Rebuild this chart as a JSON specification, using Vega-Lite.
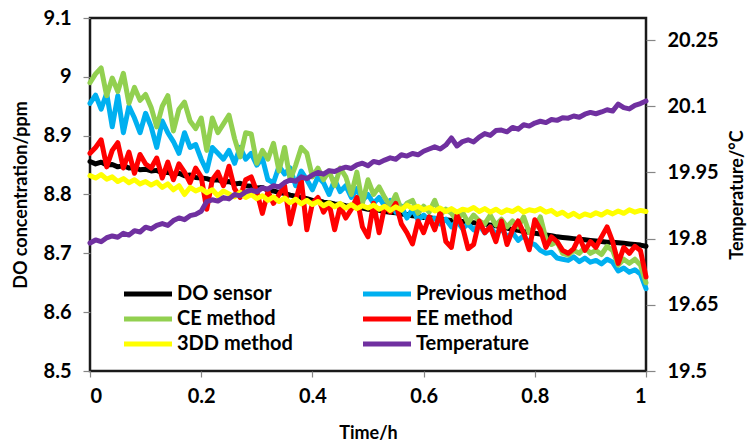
{
"$schema": "https://vega.github.io/schema/vega-lite/v6.json",
"width": 556, "height": 353,
"autosize": {"type": "none"},
"padding": {"left": 90, "top": 18, "right": 103, "bottom": 75},
"background": "white",
"config": {
  "view": {"stroke": "#1a1a1a", "strokeWidth": 2.5},
  "font": "Lato",
  "axis": {"domain": false, "grid": false, "tickColor": "#868686", "tickWidth": 1.2,
    "labelFont": "Lato", "labelFontWeight": "bold", "labelFontSize": 20, "labelColor": "#000",
    "titleFont": "Lato", "titleFontWeight": "bold", "titleFontSize": 18, "titleColor": "#000"},
  "legend": {"labelFont": "Lato", "labelFontWeight": "bold", "labelFontSize": 20, "labelColor": "#000"}
},
"datasets": {
"d": [
{"t":0,"s":"DO sensor","v":8.856},{"t":0.01,"s":"DO sensor","v":8.852},{"t":0.02,"s":"DO sensor","v":8.855},{"t":0.03,"s":"DO sensor","v":8.85},{"t":0.04,"s":"DO sensor","v":8.851},{"t":0.05,"s":"DO sensor","v":8.847},{"t":0.06,"s":"DO sensor","v":8.849},{"t":0.07,"s":"DO sensor","v":8.845},{"t":0.08,"s":"DO sensor","v":8.846},{"t":0.09,"s":"DO sensor","v":8.842},{"t":0.1,"s":"DO sensor","v":8.843},
{"t":0.11,"s":"DO sensor","v":8.84},{"t":0.12,"s":"DO sensor","v":8.841},{"t":0.13,"s":"DO sensor","v":8.837},{"t":0.14,"s":"DO sensor","v":8.838},{"t":0.15,"s":"DO sensor","v":8.834},{"t":0.16,"s":"DO sensor","v":8.836},{"t":0.17,"s":"DO sensor","v":8.832},{"t":0.18,"s":"DO sensor","v":8.833},{"t":0.19,"s":"DO sensor","v":8.829},{"t":0.2,"s":"DO sensor","v":8.828},
{"t":0.21,"s":"DO sensor","v":8.827},{"t":0.22,"s":"DO sensor","v":8.824},{"t":0.23,"s":"DO sensor","v":8.825},{"t":0.24,"s":"DO sensor","v":8.821},{"t":0.25,"s":"DO sensor","v":8.822},{"t":0.26,"s":"DO sensor","v":8.818},{"t":0.27,"s":"DO sensor","v":8.819},{"t":0.28,"s":"DO sensor","v":8.815},{"t":0.29,"s":"DO sensor","v":8.814},{"t":0.3,"s":"DO sensor","v":8.811},
{"t":0.31,"s":"DO sensor","v":8.812},{"t":0.32,"s":"DO sensor","v":8.807},{"t":0.33,"s":"DO sensor","v":8.806},{"t":0.34,"s":"DO sensor","v":8.803},{"t":0.35,"s":"DO sensor","v":8.802},{"t":0.36,"s":"DO sensor","v":8.799},{"t":0.37,"s":"DO sensor","v":8.797},{"t":0.38,"s":"DO sensor","v":8.795},{"t":0.39,"s":"DO sensor","v":8.793},{"t":0.4,"s":"DO sensor","v":8.79},
{"t":0.41,"s":"DO sensor","v":8.79},{"t":0.42,"s":"DO sensor","v":8.787},{"t":0.43,"s":"DO sensor","v":8.786},{"t":0.44,"s":"DO sensor","v":8.784},{"t":0.45,"s":"DO sensor","v":8.783},{"t":0.46,"s":"DO sensor","v":8.781},{"t":0.47,"s":"DO sensor","v":8.78},{"t":0.48,"s":"DO sensor","v":8.778},{"t":0.49,"s":"DO sensor","v":8.777},{"t":0.5,"s":"DO sensor","v":8.775},
{"t":0.51,"s":"DO sensor","v":8.774},{"t":0.52,"s":"DO sensor","v":8.773},{"t":0.53,"s":"DO sensor","v":8.771},{"t":0.54,"s":"DO sensor","v":8.77},{"t":0.55,"s":"DO sensor","v":8.769},{"t":0.56,"s":"DO sensor","v":8.767},{"t":0.57,"s":"DO sensor","v":8.766},{"t":0.58,"s":"DO sensor","v":8.764},{"t":0.59,"s":"DO sensor","v":8.763},{"t":0.6,"s":"DO sensor","v":8.761},
{"t":0.61,"s":"DO sensor","v":8.761},{"t":0.62,"s":"DO sensor","v":8.759},{"t":0.63,"s":"DO sensor","v":8.758},{"t":0.64,"s":"DO sensor","v":8.757},{"t":0.65,"s":"DO sensor","v":8.756},{"t":0.66,"s":"DO sensor","v":8.755},{"t":0.67,"s":"DO sensor","v":8.754},{"t":0.68,"s":"DO sensor","v":8.753},{"t":0.69,"s":"DO sensor","v":8.752},{"t":0.7,"s":"DO sensor","v":8.751},
{"t":0.71,"s":"DO sensor","v":8.75},{"t":0.72,"s":"DO sensor","v":8.748},{"t":0.73,"s":"DO sensor","v":8.747},{"t":0.74,"s":"DO sensor","v":8.745},{"t":0.75,"s":"DO sensor","v":8.743},{"t":0.76,"s":"DO sensor","v":8.74},{"t":0.77,"s":"DO sensor","v":8.739},{"t":0.78,"s":"DO sensor","v":8.737},{"t":0.79,"s":"DO sensor","v":8.736},{"t":0.8,"s":"DO sensor","v":8.734},
{"t":0.81,"s":"DO sensor","v":8.733},{"t":0.82,"s":"DO sensor","v":8.731},{"t":0.83,"s":"DO sensor","v":8.73},{"t":0.84,"s":"DO sensor","v":8.728},{"t":0.85,"s":"DO sensor","v":8.727},{"t":0.86,"s":"DO sensor","v":8.726},{"t":0.87,"s":"DO sensor","v":8.725},{"t":0.88,"s":"DO sensor","v":8.724},{"t":0.89,"s":"DO sensor","v":8.723},{"t":0.9,"s":"DO sensor","v":8.722},
{"t":0.91,"s":"DO sensor","v":8.721},{"t":0.92,"s":"DO sensor","v":8.72},{"t":0.93,"s":"DO sensor","v":8.719},{"t":0.94,"s":"DO sensor","v":8.719},{"t":0.95,"s":"DO sensor","v":8.718},{"t":0.96,"s":"DO sensor","v":8.717},{"t":0.97,"s":"DO sensor","v":8.716},{"t":0.98,"s":"DO sensor","v":8.715},{"t":0.99,"s":"DO sensor","v":8.714},{"t":1,"s":"DO sensor","v":8.712},

{"t":0,"s":"Previous method","v":8.955},{"t":0.01,"s":"Previous method","v":8.969},{"t":0.02,"s":"Previous method","v":8.945},{"t":0.03,"s":"Previous method","v":8.972},{"t":0.04,"s":"Previous method","v":8.915},{"t":0.05,"s":"Previous method","v":8.968},{"t":0.06,"s":"Previous method","v":8.905},{"t":0.07,"s":"Previous method","v":8.95},{"t":0.08,"s":"Previous method","v":8.93},{"t":0.09,"s":"Previous method","v":8.905},{"t":0.1,"s":"Previous method","v":8.938},
{"t":0.11,"s":"Previous method","v":8.915},{"t":0.12,"s":"Previous method","v":8.88},{"t":0.13,"s":"Previous method","v":8.925},{"t":0.14,"s":"Previous method","v":8.905},{"t":0.15,"s":"Previous method","v":8.89},{"t":0.16,"s":"Previous method","v":8.87},{"t":0.17,"s":"Previous method","v":8.905},{"t":0.18,"s":"Previous method","v":8.88},{"t":0.19,"s":"Previous method","v":8.885},{"t":0.2,"s":"Previous method","v":8.86},
{"t":0.21,"s":"Previous method","v":8.84},{"t":0.22,"s":"Previous method","v":8.88},{"t":0.23,"s":"Previous method","v":8.87},{"t":0.24,"s":"Previous method","v":8.86},{"t":0.25,"s":"Previous method","v":8.875},{"t":0.26,"s":"Previous method","v":8.853},{"t":0.27,"s":"Previous method","v":8.88},{"t":0.28,"s":"Previous method","v":8.86},{"t":0.29,"s":"Previous method","v":8.87},{"t":0.3,"s":"Previous method","v":8.85},
{"t":0.31,"s":"Previous method","v":8.862},{"t":0.32,"s":"Previous method","v":8.825},{"t":0.33,"s":"Previous method","v":8.82},{"t":0.34,"s":"Previous method","v":8.848},{"t":0.35,"s":"Previous method","v":8.835},{"t":0.36,"s":"Previous method","v":8.845},{"t":0.37,"s":"Previous method","v":8.815},{"t":0.38,"s":"Previous method","v":8.84},{"t":0.39,"s":"Previous method","v":8.825},{"t":0.4,"s":"Previous method","v":8.808},
{"t":0.41,"s":"Previous method","v":8.83},{"t":0.42,"s":"Previous method","v":8.82},{"t":0.43,"s":"Previous method","v":8.8},{"t":0.44,"s":"Previous method","v":8.825},{"t":0.45,"s":"Previous method","v":8.805},{"t":0.46,"s":"Previous method","v":8.815},{"t":0.47,"s":"Previous method","v":8.795},{"t":0.48,"s":"Previous method","v":8.81},{"t":0.49,"s":"Previous method","v":8.79},{"t":0.5,"s":"Previous method","v":8.8},
{"t":0.51,"s":"Previous method","v":8.785},{"t":0.52,"s":"Previous method","v":8.795},{"t":0.53,"s":"Previous method","v":8.78},{"t":0.54,"s":"Previous method","v":8.79},{"t":0.55,"s":"Previous method","v":8.77},{"t":0.56,"s":"Previous method","v":8.78},{"t":0.57,"s":"Previous method","v":8.76},{"t":0.58,"s":"Previous method","v":8.775},{"t":0.59,"s":"Previous method","v":8.757},{"t":0.6,"s":"Previous method","v":8.765},
{"t":0.61,"s":"Previous method","v":8.755},{"t":0.62,"s":"Previous method","v":8.76},{"t":0.63,"s":"Previous method","v":8.75},{"t":0.64,"s":"Previous method","v":8.758},{"t":0.65,"s":"Previous method","v":8.745},{"t":0.66,"s":"Previous method","v":8.755},{"t":0.67,"s":"Previous method","v":8.742},{"t":0.68,"s":"Previous method","v":8.75},{"t":0.69,"s":"Previous method","v":8.74},{"t":0.7,"s":"Previous method","v":8.748},
{"t":0.71,"s":"Previous method","v":8.735},{"t":0.72,"s":"Previous method","v":8.745},{"t":0.73,"s":"Previous method","v":8.732},{"t":0.74,"s":"Previous method","v":8.742},{"t":0.75,"s":"Previous method","v":8.728},{"t":0.76,"s":"Previous method","v":8.735},{"t":0.77,"s":"Previous method","v":8.722},{"t":0.78,"s":"Previous method","v":8.73},{"t":0.79,"s":"Previous method","v":8.718},{"t":0.8,"s":"Previous method","v":8.715},
{"t":0.81,"s":"Previous method","v":8.705},{"t":0.82,"s":"Previous method","v":8.7},{"t":0.83,"s":"Previous method","v":8.702},{"t":0.84,"s":"Previous method","v":8.692},{"t":0.85,"s":"Previous method","v":8.69},{"t":0.86,"s":"Previous method","v":8.688},{"t":0.87,"s":"Previous method","v":8.694},{"t":0.88,"s":"Previous method","v":8.686},{"t":0.89,"s":"Previous method","v":8.692},{"t":0.9,"s":"Previous method","v":8.685},
{"t":0.91,"s":"Previous method","v":8.688},{"t":0.92,"s":"Previous method","v":8.682},{"t":0.93,"s":"Previous method","v":8.69},{"t":0.94,"s":"Previous method","v":8.685},{"t":0.95,"s":"Previous method","v":8.67},{"t":0.96,"s":"Previous method","v":8.675},{"t":0.97,"s":"Previous method","v":8.668},{"t":0.98,"s":"Previous method","v":8.672},{"t":0.99,"s":"Previous method","v":8.665},{"t":1,"s":"Previous method","v":8.64},

{"t":0,"s":"CE method","v":8.99},{"t":0.01,"s":"CE method","v":9.005},{"t":0.02,"s":"CE method","v":9.015},{"t":0.03,"s":"CE method","v":8.968},{"t":0.04,"s":"CE method","v":8.998},{"t":0.05,"s":"CE method","v":8.975},{"t":0.06,"s":"CE method","v":9.006},{"t":0.07,"s":"CE method","v":8.955},{"t":0.08,"s":"CE method","v":8.982},{"t":0.09,"s":"CE method","v":8.96},{"t":0.1,"s":"CE method","v":8.97},
{"t":0.11,"s":"CE method","v":8.948},{"t":0.12,"s":"CE method","v":8.915},{"t":0.13,"s":"CE method","v":8.95},{"t":0.14,"s":"CE method","v":8.968},{"t":0.15,"s":"CE method","v":8.908},{"t":0.16,"s":"CE method","v":8.945},{"t":0.17,"s":"CE method","v":8.957},{"t":0.18,"s":"CE method","v":8.925},{"t":0.19,"s":"CE method","v":8.912},{"t":0.2,"s":"CE method","v":8.93},
{"t":0.21,"s":"CE method","v":8.875},{"t":0.22,"s":"CE method","v":8.93},{"t":0.23,"s":"CE method","v":8.905},{"t":0.24,"s":"CE method","v":8.92},{"t":0.25,"s":"CE method","v":8.935},{"t":0.26,"s":"CE method","v":8.895},{"t":0.27,"s":"CE method","v":8.864},{"t":0.28,"s":"CE method","v":8.905},{"t":0.29,"s":"CE method","v":8.903},{"t":0.3,"s":"CE method","v":8.853},
{"t":0.31,"s":"CE method","v":8.875},{"t":0.32,"s":"CE method","v":8.86},{"t":0.33,"s":"CE method","v":8.887},{"t":0.34,"s":"CE method","v":8.84},{"t":0.35,"s":"CE method","v":8.88},{"t":0.36,"s":"CE method","v":8.825},{"t":0.37,"s":"CE method","v":8.85},{"t":0.38,"s":"CE method","v":8.88},{"t":0.39,"s":"CE method","v":8.87},{"t":0.4,"s":"CE method","v":8.83},
{"t":0.41,"s":"CE method","v":8.845},{"t":0.42,"s":"CE method","v":8.825},{"t":0.43,"s":"CE method","v":8.84},{"t":0.44,"s":"CE method","v":8.815},{"t":0.45,"s":"CE method","v":8.845},{"t":0.46,"s":"CE method","v":8.83},{"t":0.47,"s":"CE method","v":8.8},{"t":0.48,"s":"CE method","v":8.838},{"t":0.49,"s":"CE method","v":8.785},{"t":0.5,"s":"CE method","v":8.825},
{"t":0.51,"s":"CE method","v":8.8},{"t":0.52,"s":"CE method","v":8.813},{"t":0.53,"s":"CE method","v":8.795},{"t":0.54,"s":"CE method","v":8.78},{"t":0.55,"s":"CE method","v":8.8},{"t":0.56,"s":"CE method","v":8.773},{"t":0.57,"s":"CE method","v":8.785},{"t":0.58,"s":"CE method","v":8.79},{"t":0.59,"s":"CE method","v":8.768},{"t":0.6,"s":"CE method","v":8.78},
{"t":0.61,"s":"CE method","v":8.77},{"t":0.62,"s":"CE method","v":8.79},{"t":0.63,"s":"CE method","v":8.765},{"t":0.64,"s":"CE method","v":8.775},{"t":0.65,"s":"CE method","v":8.768},{"t":0.66,"s":"CE method","v":8.755},{"t":0.67,"s":"CE method","v":8.77},{"t":0.68,"s":"CE method","v":8.752},{"t":0.69,"s":"CE method","v":8.765},{"t":0.7,"s":"CE method","v":8.755},
{"t":0.71,"s":"CE method","v":8.75},{"t":0.72,"s":"CE method","v":8.765},{"t":0.73,"s":"CE method","v":8.748},{"t":0.74,"s":"CE method","v":8.758},{"t":0.75,"s":"CE method","v":8.745},{"t":0.76,"s":"CE method","v":8.755},{"t":0.77,"s":"CE method","v":8.745},{"t":0.78,"s":"CE method","v":8.762},{"t":0.79,"s":"CE method","v":8.735},{"t":0.8,"s":"CE method","v":8.745},
{"t":0.81,"s":"CE method","v":8.762},{"t":0.82,"s":"CE method","v":8.725},{"t":0.83,"s":"CE method","v":8.715},{"t":0.84,"s":"CE method","v":8.72},{"t":0.85,"s":"CE method","v":8.7},{"t":0.86,"s":"CE method","v":8.697},{"t":0.87,"s":"CE method","v":8.705},{"t":0.88,"s":"CE method","v":8.7},{"t":0.89,"s":"CE method","v":8.71},{"t":0.9,"s":"CE method","v":8.7},
{"t":0.91,"s":"CE method","v":8.705},{"t":0.92,"s":"CE method","v":8.698},{"t":0.93,"s":"CE method","v":8.712},{"t":0.94,"s":"CE method","v":8.705},{"t":0.95,"s":"CE method","v":8.68},{"t":0.96,"s":"CE method","v":8.69},{"t":0.97,"s":"CE method","v":8.683},{"t":0.98,"s":"CE method","v":8.69},{"t":0.99,"s":"CE method","v":8.68},{"t":1,"s":"CE method","v":8.65},

{"t":0,"s":"EE method","v":8.87},{"t":0.01,"s":"EE method","v":8.88},{"t":0.02,"s":"EE method","v":8.893},{"t":0.03,"s":"EE method","v":8.847},{"t":0.04,"s":"EE method","v":8.875},{"t":0.05,"s":"EE method","v":8.888},{"t":0.06,"s":"EE method","v":8.845},{"t":0.07,"s":"EE method","v":8.872},{"t":0.08,"s":"EE method","v":8.836},{"t":0.09,"s":"EE method","v":8.868},{"t":0.1,"s":"EE method","v":8.852},
{"t":0.11,"s":"EE method","v":8.845},{"t":0.12,"s":"EE method","v":8.862},{"t":0.13,"s":"EE method","v":8.828},{"t":0.14,"s":"EE method","v":8.855},{"t":0.15,"s":"EE method","v":8.825},{"t":0.16,"s":"EE method","v":8.852},{"t":0.17,"s":"EE method","v":8.838},{"t":0.18,"s":"EE method","v":8.82},{"t":0.19,"s":"EE method","v":8.845},{"t":0.2,"s":"EE method","v":8.83},
{"t":0.21,"s":"EE method","v":8.775},{"t":0.22,"s":"EE method","v":8.825},{"t":0.23,"s":"EE method","v":8.838},{"t":0.24,"s":"EE method","v":8.815},{"t":0.25,"s":"EE method","v":8.848},{"t":0.26,"s":"EE method","v":8.81},{"t":0.27,"s":"EE method","v":8.795},{"t":0.28,"s":"EE method","v":8.825},{"t":0.29,"s":"EE method","v":8.83},{"t":0.3,"s":"EE method","v":8.805},
{"t":0.31,"s":"EE method","v":8.768},{"t":0.32,"s":"EE method","v":8.805},{"t":0.33,"s":"EE method","v":8.785},{"t":0.34,"s":"EE method","v":8.8},{"t":0.35,"s":"EE method","v":8.815},{"t":0.36,"s":"EE method","v":8.75},{"t":0.37,"s":"EE method","v":8.79},{"t":0.38,"s":"EE method","v":8.825},{"t":0.39,"s":"EE method","v":8.74},{"t":0.4,"s":"EE method","v":8.785},
{"t":0.41,"s":"EE method","v":8.795},{"t":0.42,"s":"EE method","v":8.77},{"t":0.43,"s":"EE method","v":8.785},{"t":0.44,"s":"EE method","v":8.74},{"t":0.45,"s":"EE method","v":8.78},{"t":0.46,"s":"EE method","v":8.76},{"t":0.47,"s":"EE method","v":8.775},{"t":0.48,"s":"EE method","v":8.795},{"t":0.49,"s":"EE method","v":8.745},{"t":0.5,"s":"EE method","v":8.728},
{"t":0.51,"s":"EE method","v":8.785},{"t":0.52,"s":"EE method","v":8.735},{"t":0.53,"s":"EE method","v":8.78},{"t":0.54,"s":"EE method","v":8.77},{"t":0.55,"s":"EE method","v":8.785},{"t":0.56,"s":"EE method","v":8.75},{"t":0.57,"s":"EE method","v":8.735},{"t":0.58,"s":"EE method","v":8.716},{"t":0.59,"s":"EE method","v":8.755},{"t":0.6,"s":"EE method","v":8.735},
{"t":0.61,"s":"EE method","v":8.762},{"t":0.62,"s":"EE method","v":8.74},{"t":0.63,"s":"EE method","v":8.77},{"t":0.64,"s":"EE method","v":8.72},{"t":0.65,"s":"EE method","v":8.71},{"t":0.66,"s":"EE method","v":8.765},{"t":0.67,"s":"EE method","v":8.745},{"t":0.68,"s":"EE method","v":8.708},{"t":0.69,"s":"EE method","v":8.715},{"t":0.7,"s":"EE method","v":8.755},
{"t":0.71,"s":"EE method","v":8.735},{"t":0.72,"s":"EE method","v":8.745},{"t":0.73,"s":"EE method","v":8.72},{"t":0.74,"s":"EE method","v":8.755},{"t":0.75,"s":"EE method","v":8.715},{"t":0.76,"s":"EE method","v":8.74},{"t":0.77,"s":"EE method","v":8.755},{"t":0.78,"s":"EE method","v":8.735},{"t":0.79,"s":"EE method","v":8.706},{"t":0.8,"s":"EE method","v":8.757},
{"t":0.81,"s":"EE method","v":8.74},{"t":0.82,"s":"EE method","v":8.71},{"t":0.83,"s":"EE method","v":8.728},{"t":0.84,"s":"EE method","v":8.72},{"t":0.85,"s":"EE method","v":8.705},{"t":0.86,"s":"EE method","v":8.7},{"t":0.87,"s":"EE method","v":8.708},{"t":0.88,"s":"EE method","v":8.728},{"t":0.89,"s":"EE method","v":8.705},{"t":0.9,"s":"EE method","v":8.72},
{"t":0.91,"s":"EE method","v":8.71},{"t":0.92,"s":"EE method","v":8.728},{"t":0.93,"s":"EE method","v":8.745},{"t":0.94,"s":"EE method","v":8.72},{"t":0.95,"s":"EE method","v":8.683},{"t":0.96,"s":"EE method","v":8.71},{"t":0.97,"s":"EE method","v":8.7},{"t":0.98,"s":"EE method","v":8.712},{"t":0.99,"s":"EE method","v":8.705},{"t":1,"s":"EE method","v":8.66},

{"t":0,"s":"3DD method","v":8.832},{"t":0.01,"s":"3DD method","v":8.828},{"t":0.02,"s":"3DD method","v":8.834},{"t":0.03,"s":"3DD method","v":8.826},{"t":0.04,"s":"3DD method","v":8.83},{"t":0.05,"s":"3DD method","v":8.822},{"t":0.06,"s":"3DD method","v":8.827},{"t":0.07,"s":"3DD method","v":8.82},{"t":0.08,"s":"3DD method","v":8.825},{"t":0.09,"s":"3DD method","v":8.818},{"t":0.1,"s":"3DD method","v":8.822},
{"t":0.11,"s":"3DD method","v":8.816},{"t":0.12,"s":"3DD method","v":8.821},{"t":0.13,"s":"3DD method","v":8.812},{"t":0.14,"s":"3DD method","v":8.818},{"t":0.15,"s":"3DD method","v":8.808},{"t":0.16,"s":"3DD method","v":8.815},{"t":0.17,"s":"3DD method","v":8.8},{"t":0.18,"s":"3DD method","v":8.812},{"t":0.19,"s":"3DD method","v":8.806},{"t":0.2,"s":"3DD method","v":8.81},
{"t":0.21,"s":"3DD method","v":8.803},{"t":0.22,"s":"3DD method","v":8.808},{"t":0.23,"s":"3DD method","v":8.798},{"t":0.24,"s":"3DD method","v":8.806},{"t":0.25,"s":"3DD method","v":8.801},{"t":0.26,"s":"3DD method","v":8.796},{"t":0.27,"s":"3DD method","v":8.804},{"t":0.28,"s":"3DD method","v":8.795},{"t":0.29,"s":"3DD method","v":8.8},{"t":0.3,"s":"3DD method","v":8.793},
{"t":0.31,"s":"3DD method","v":8.798},{"t":0.32,"s":"3DD method","v":8.79},{"t":0.33,"s":"3DD method","v":8.796},{"t":0.34,"s":"3DD method","v":8.788},{"t":0.35,"s":"3DD method","v":8.794},{"t":0.36,"s":"3DD method","v":8.786},{"t":0.37,"s":"3DD method","v":8.792},{"t":0.38,"s":"3DD method","v":8.784},{"t":0.39,"s":"3DD method","v":8.79},{"t":0.4,"s":"3DD method","v":8.783},
{"t":0.41,"s":"3DD method","v":8.788},{"t":0.42,"s":"3DD method","v":8.781},{"t":0.43,"s":"3DD method","v":8.786},{"t":0.44,"s":"3DD method","v":8.779},{"t":0.45,"s":"3DD method","v":8.785},{"t":0.46,"s":"3DD method","v":8.777},{"t":0.47,"s":"3DD method","v":8.783},{"t":0.48,"s":"3DD method","v":8.776},{"t":0.49,"s":"3DD method","v":8.781},{"t":0.5,"s":"3DD method","v":8.777},
{"t":0.51,"s":"3DD method","v":8.782},{"t":0.52,"s":"3DD method","v":8.775},{"t":0.53,"s":"3DD method","v":8.78},{"t":0.54,"s":"3DD method","v":8.773},{"t":0.55,"s":"3DD method","v":8.779},{"t":0.56,"s":"3DD method","v":8.774},{"t":0.57,"s":"3DD method","v":8.782},{"t":0.58,"s":"3DD method","v":8.776},{"t":0.59,"s":"3DD method","v":8.78},{"t":0.6,"s":"3DD method","v":8.774},
{"t":0.61,"s":"3DD method","v":8.778},{"t":0.62,"s":"3DD method","v":8.772},{"t":0.63,"s":"3DD method","v":8.777},{"t":0.64,"s":"3DD method","v":8.771},{"t":0.65,"s":"3DD method","v":8.776},{"t":0.66,"s":"3DD method","v":8.77},{"t":0.67,"s":"3DD method","v":8.775},{"t":0.68,"s":"3DD method","v":8.773},{"t":0.69,"s":"3DD method","v":8.778},{"t":0.7,"s":"3DD method","v":8.771},
{"t":0.71,"s":"3DD method","v":8.776},{"t":0.72,"s":"3DD method","v":8.77},{"t":0.73,"s":"3DD method","v":8.775},{"t":0.74,"s":"3DD method","v":8.769},{"t":0.75,"s":"3DD method","v":8.774},{"t":0.76,"s":"3DD method","v":8.771},{"t":0.77,"s":"3DD method","v":8.777},{"t":0.78,"s":"3DD method","v":8.77},{"t":0.79,"s":"3DD method","v":8.774},{"t":0.8,"s":"3DD method","v":8.772},
{"t":0.81,"s":"3DD method","v":8.776},{"t":0.82,"s":"3DD method","v":8.77},{"t":0.83,"s":"3DD method","v":8.773},{"t":0.84,"s":"3DD method","v":8.766},{"t":0.85,"s":"3DD method","v":8.77},{"t":0.86,"s":"3DD method","v":8.763},{"t":0.87,"s":"3DD method","v":8.768},{"t":0.88,"s":"3DD method","v":8.762},{"t":0.89,"s":"3DD method","v":8.767},{"t":0.9,"s":"3DD method","v":8.764},
{"t":0.91,"s":"3DD method","v":8.769},{"t":0.92,"s":"3DD method","v":8.765},{"t":0.93,"s":"3DD method","v":8.771},{"t":0.94,"s":"3DD method","v":8.767},{"t":0.95,"s":"3DD method","v":8.772},{"t":0.96,"s":"3DD method","v":8.768},{"t":0.97,"s":"3DD method","v":8.774},{"t":0.98,"s":"3DD method","v":8.77},{"t":0.99,"s":"3DD method","v":8.773},{"t":1,"s":"3DD method","v":8.771}
],
"tp": [
{"t":0,"s":"Temperature","v":19.79},{"t":0.01,"s":"Temperature","v":19.797},{"t":0.02,"s":"Temperature","v":19.793},{"t":0.03,"s":"Temperature","v":19.802},{"t":0.04,"s":"Temperature","v":19.806},{"t":0.05,"s":"Temperature","v":19.803},{"t":0.06,"s":"Temperature","v":19.812},{"t":0.07,"s":"Temperature","v":19.808},{"t":0.08,"s":"Temperature","v":19.818},{"t":0.09,"s":"Temperature","v":19.815},{"t":0.1,"s":"Temperature","v":19.826},
{"t":0.11,"s":"Temperature","v":19.822},{"t":0.12,"s":"Temperature","v":19.83},{"t":0.13,"s":"Temperature","v":19.834},{"t":0.14,"s":"Temperature","v":19.83},{"t":0.15,"s":"Temperature","v":19.841},{"t":0.16,"s":"Temperature","v":19.847},{"t":0.17,"s":"Temperature","v":19.843},{"t":0.18,"s":"Temperature","v":19.852},{"t":0.19,"s":"Temperature","v":19.855},{"t":0.2,"s":"Temperature","v":19.862},
{"t":0.21,"s":"Temperature","v":19.884},{"t":0.22,"s":"Temperature","v":19.888},{"t":0.23,"s":"Temperature","v":19.885},{"t":0.24,"s":"Temperature","v":19.893},{"t":0.25,"s":"Temperature","v":19.89},{"t":0.26,"s":"Temperature","v":19.9},{"t":0.27,"s":"Temperature","v":19.897},{"t":0.28,"s":"Temperature","v":19.906},{"t":0.29,"s":"Temperature","v":19.91},{"t":0.3,"s":"Temperature","v":19.906},
{"t":0.31,"s":"Temperature","v":19.915},{"t":0.32,"s":"Temperature","v":19.912},{"t":0.33,"s":"Temperature","v":19.92},{"t":0.34,"s":"Temperature","v":19.917},{"t":0.35,"s":"Temperature","v":19.927},{"t":0.36,"s":"Temperature","v":19.933},{"t":0.37,"s":"Temperature","v":19.93},{"t":0.38,"s":"Temperature","v":19.94},{"t":0.39,"s":"Temperature","v":19.936},{"t":0.4,"s":"Temperature","v":19.944},
{"t":0.41,"s":"Temperature","v":19.95},{"t":0.42,"s":"Temperature","v":19.946},{"t":0.43,"s":"Temperature","v":19.954},{"t":0.44,"s":"Temperature","v":19.952},{"t":0.45,"s":"Temperature","v":19.958},{"t":0.46,"s":"Temperature","v":19.962},{"t":0.47,"s":"Temperature","v":19.959},{"t":0.48,"s":"Temperature","v":19.967},{"t":0.49,"s":"Temperature","v":19.971},{"t":0.5,"s":"Temperature","v":19.965},
{"t":0.51,"s":"Temperature","v":19.975},{"t":0.52,"s":"Temperature","v":19.972},{"t":0.53,"s":"Temperature","v":19.978},{"t":0.54,"s":"Temperature","v":19.983},{"t":0.55,"s":"Temperature","v":19.98},{"t":0.56,"s":"Temperature","v":19.99},{"t":0.57,"s":"Temperature","v":19.987},{"t":0.58,"s":"Temperature","v":19.993},{"t":0.59,"s":"Temperature","v":19.99},{"t":0.6,"s":"Temperature","v":19.998},
{"t":0.61,"s":"Temperature","v":20.003},{"t":0.62,"s":"Temperature","v":20.008},{"t":0.63,"s":"Temperature","v":20.003},{"t":0.64,"s":"Temperature","v":20.012},{"t":0.65,"s":"Temperature","v":20.028},{"t":0.66,"s":"Temperature","v":20.01},{"t":0.67,"s":"Temperature","v":20.02},{"t":0.68,"s":"Temperature","v":20.024},{"t":0.69,"s":"Temperature","v":20.019},{"t":0.7,"s":"Temperature","v":20.03},
{"t":0.71,"s":"Temperature","v":20.038},{"t":0.72,"s":"Temperature","v":20.034},{"t":0.73,"s":"Temperature","v":20.045},{"t":0.74,"s":"Temperature","v":20.046},{"t":0.75,"s":"Temperature","v":20.042},{"t":0.76,"s":"Temperature","v":20.052},{"t":0.77,"s":"Temperature","v":20.048},{"t":0.78,"s":"Temperature","v":20.058},{"t":0.79,"s":"Temperature","v":20.055},{"t":0.8,"s":"Temperature","v":20.062},
{"t":0.81,"s":"Temperature","v":20.066},{"t":0.82,"s":"Temperature","v":20.063},{"t":0.83,"s":"Temperature","v":20.07},{"t":0.84,"s":"Temperature","v":20.068},{"t":0.85,"s":"Temperature","v":20.074},{"t":0.86,"s":"Temperature","v":20.073},{"t":0.87,"s":"Temperature","v":20.078},{"t":0.88,"s":"Temperature","v":20.075},{"t":0.89,"s":"Temperature","v":20.082},{"t":0.9,"s":"Temperature","v":20.086},
{"t":0.91,"s":"Temperature","v":20.083},{"t":0.92,"s":"Temperature","v":20.087},{"t":0.93,"s":"Temperature","v":20.092},{"t":0.94,"s":"Temperature","v":20.089},{"t":0.95,"s":"Temperature","v":20.105},{"t":0.96,"s":"Temperature","v":20.097},{"t":0.97,"s":"Temperature","v":20.094},{"t":0.98,"s":"Temperature","v":20.102},{"t":0.99,"s":"Temperature","v":20.106},{"t":1,"s":"Temperature","v":20.112}
]
},
"layer": [
  {
    "data": {"name": "d"},
    "mark": {"type": "line", "strokeWidth": 5, "strokeJoin": "round", "strokeCap": "round"},
    "encoding": {
      "x": {"field": "t", "type": "quantitative", "scale": {"domain": [0, 1], "nice": false},
        "axis": {"values": [0, 0.2, 0.4, 0.6, 0.8, 1], "format": ".2~f", "title": "Time/h", "labelFontSize": 20, "tickSize": 6, "labelPadding": 9, "titlePadding": 18}},
      "y": {"field": "v", "type": "quantitative", "scale": {"domain": [8.5, 9.1], "nice": false, "zero": false},
        "axis": {"values": [8.5, 8.6, 8.7, 8.8, 8.9, 9, 9.1], "format": ".2~f", "title": "DO concentration/ppm", "labelFontSize": 20, "tickSize": 7, "labelPadding": 12, "titlePadding": 13}},
      "color": {"field": "s", "type": "nominal",
        "scale": {"domain": ["DO sensor", "Previous method", "CE method", "EE method", "3DD method", "Temperature"],
                  "range": ["#000000", "#00B0F0", "#92D050", "#FF0000", "#FFFF00", "#7030A0"]},
        "legend": {"title": null, "orient": "none", "direction": "horizontal", "legendX": 66, "legendY": 266, "columns": 2, "padding": 0,
          "symbolType": "M-7,0H1", "symbolSize": 144, "symbolStrokeWidth": 5, "labelOffset": 1,
          "rowPadding": 5, "columnPadding": 60, "labelLimit": 300}},
      "strokeWidth": {"condition": {"test": "datum.s === 'DO sensor'", "value": 8}, "value": 5}
    }
  },
  {
    "data": {"name": "tp"},
    "mark": {"type": "line", "strokeWidth": 5, "strokeJoin": "round", "strokeCap": "round"},
    "encoding": {
      "x": {"field": "t", "type": "quantitative"},
      "y": {"field": "v", "type": "quantitative", "scale": {"domain": [19.5, 20.3], "nice": false, "zero": false},
        "axis": {"orient": "right", "values": [19.5, 19.65, 19.8, 19.95, 20.1, 20.25], "format": ".2~f", "title": "Temperature/°C", "titleAngle": -90, "labelFontSize": 20, "tickSize": 9, "labelPadding": 12, "titlePadding": 28}},
      "color": {"field": "s", "type": "nominal"}
    }
  }
],
"resolve": {"scale": {"y": "independent"}}
}
